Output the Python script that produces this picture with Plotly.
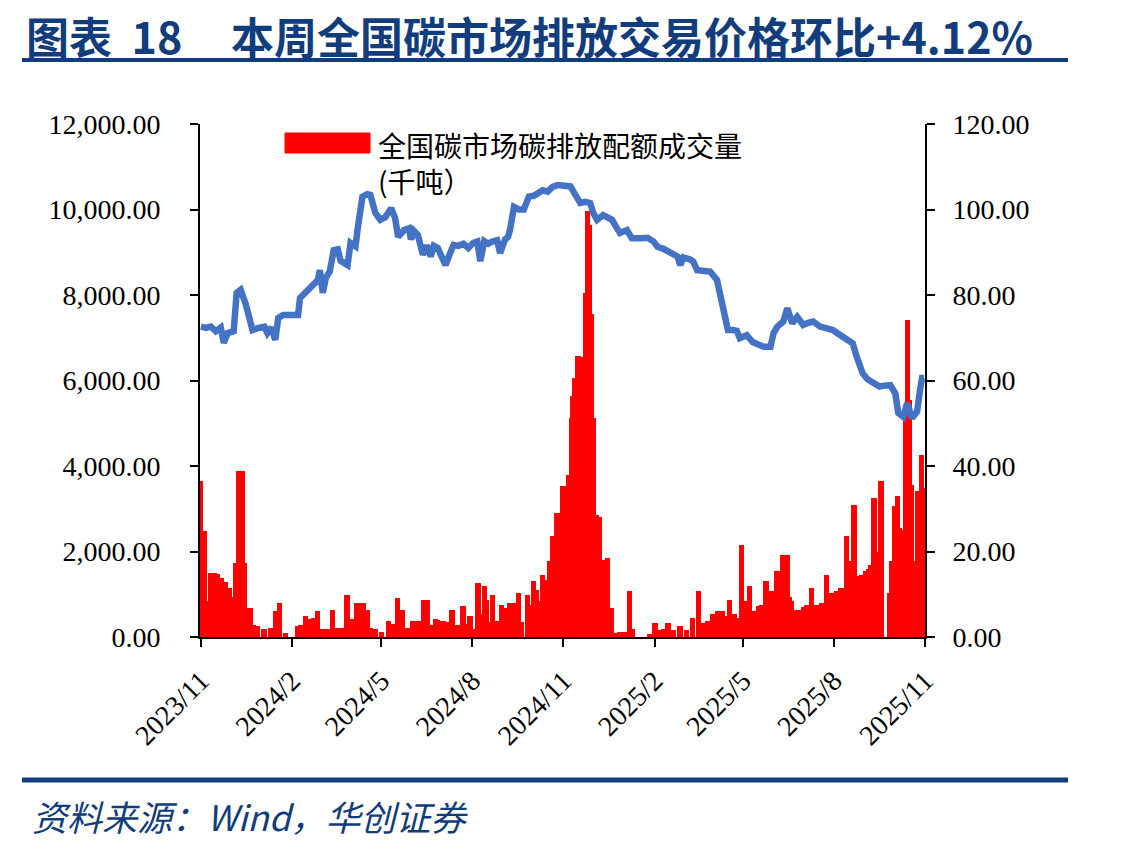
import plotly.graph_objects as go

# ---------------- data ----------------
price_dates = [
    "2023-11-01","2023-11-06","2023-11-11","2023-11-16","2023-11-21","2023-11-24","2023-11-28",
    "2023-12-04","2023-12-07","2023-12-11","2023-12-16","2023-12-19","2023-12-23","2023-12-29",
    "2024-01-04","2024-01-07","2024-01-11","2024-01-15","2024-01-18","2024-01-23","2024-01-30",
    "2024-02-07","2024-02-09","2024-02-17","2024-02-22","2024-02-27","2024-02-29",
    "2024-03-03","2024-03-06","2024-03-10","2024-03-14","2024-03-18","2024-03-21","2024-03-24","2024-03-28","2024-03-31",
    "2024-04-05","2024-04-07","2024-04-12","2024-04-17","2024-04-20","2024-04-25","2024-04-30",
    "2024-05-05","2024-05-11","2024-05-15","2024-05-18","2024-05-24","2024-05-29","2024-05-31",
    "2024-06-03","2024-06-07","2024-06-10","2024-06-12","2024-06-16","2024-06-20","2024-06-23","2024-06-27",
    "2024-07-01","2024-07-05","2024-07-09","2024-07-13","2024-07-18","2024-07-23","2024-07-28",
    "2024-08-02","2024-08-06","2024-08-09","2024-08-13","2024-08-17","2024-08-21","2024-08-26","2024-08-29",
    "2024-09-03","2024-09-06","2024-09-08","2024-09-12","2024-09-17","2024-09-22","2024-09-27",
    "2024-10-02","2024-10-06","2024-10-11","2024-10-16","2024-10-21","2024-10-26",
    "2024-11-01","2024-11-08","2024-11-13","2024-11-18","2024-11-23","2024-11-28",
    "2024-12-01","2024-12-05","2024-12-11","2024-12-16","2024-12-20","2024-12-24","2024-12-28",
    "2025-01-04","2025-01-09","2025-01-18","2025-01-25","2025-01-31",
    "2025-02-04","2025-02-10","2025-02-17","2025-02-24","2025-02-27",
    "2025-03-02","2025-03-09","2025-03-12","2025-03-16","2025-03-24","2025-03-29",
    "2025-04-05","2025-04-08","2025-04-11","2025-04-16","2025-04-21","2025-04-25","2025-04-28",
    "2025-05-05","2025-05-11","2025-05-16","2025-05-22","2025-05-29",
    "2025-06-01","2025-06-05","2025-06-11","2025-06-15","2025-06-20","2025-06-25",
    "2025-07-01","2025-07-06","2025-07-11","2025-07-18","2025-07-24","2025-07-31",
    "2025-08-05","2025-08-10","2025-08-15","2025-08-20","2025-08-24","2025-08-30",
    "2025-09-04","2025-09-09","2025-09-16","2025-09-21","2025-09-27",
    "2025-10-02","2025-10-05","2025-10-10","2025-10-14","2025-10-19","2025-10-24","2025-10-27","2025-10-29","2025-10-31",
]
price_values = [
    72.6, 72.3, 72.6, 71.5, 72.4, 68.8, 71.1,
    71.5, 80.5, 81.2, 78.0, 75.0, 71.8, 72.3,
    72.6, 71.1, 72.4, 69.5, 74.6, 75.3, 75.3,
    75.3, 79.3, 81.2, 82.0, 83.5, 85.8,
    80.5, 84.0, 85.5, 90.5, 90.7, 88.0, 87.5, 87.0, 92.2,
    91.4, 95.2, 103.0, 103.6, 103.4, 99.2, 97.6,
    98.2, 100.3, 98.0, 93.6, 95.2, 95.6, 93.0,
    95.0, 94.0, 91.0, 89.4, 91.6, 89.0, 91.5, 91.0,
    89.0, 87.0, 89.5, 91.7, 91.5, 92.0, 91.0,
    92.2, 92.5, 87.9, 92.6, 92.0, 92.5, 92.8, 89.8,
    93.0, 93.6, 95.2, 100.6, 100.0, 100.0, 103.0,
    103.2, 103.8, 104.5, 104.2, 105.3, 105.7,
    105.7, 105.4, 103.4, 101.5, 101.8, 101.5,
    99.2, 97.6, 98.7, 97.9, 97.6, 96.0, 94.5,
    95.2, 93.3, 93.3, 93.4, 92.5,
    91.3, 90.8, 89.8, 89.0, 87.0,
    88.8, 88.3, 87.8, 85.8, 85.8, 85.5,
    83.5, 80.5, 76.5, 71.8, 71.8, 71.6, 69.9,
    70.6, 69.0, 68.3, 67.9, 67.9,
    71.0, 72.6, 73.8, 76.9, 73.4, 74.9,
    73.0, 73.5, 73.8, 72.6, 72.4, 71.8,
    71.0, 70.2, 69.5, 68.7, 65.6, 61.7,
    60.3, 59.4, 58.6, 58.8, 58.9,
    57.0, 52.4, 51.5, 54.7, 51.2, 52.7, 57.8, 60.6, 60.6,
]

volume_dates = [
    "2023-11-01","2023-11-05","2023-11-08","2023-11-11","2023-11-15","2023-11-18","2023-11-22","2023-11-26","2023-11-30",
    "2023-12-04","2023-12-07","2023-12-10","2023-12-13","2023-12-15","2023-12-17","2023-12-21","2023-12-24","2023-12-28",
    "2024-01-04","2024-01-11","2024-01-16","2024-01-20","2024-01-26",
    "2024-02-07","2024-02-10","2024-02-15","2024-02-20","2024-02-23","2024-02-27",
    "2024-03-03","2024-03-08","2024-03-13","2024-03-18","2024-03-22","2024-03-28",
    "2024-04-02","2024-04-07","2024-04-10","2024-04-13","2024-04-17","2024-04-20","2024-04-25",
    "2024-05-02","2024-05-09","2024-05-13","2024-05-18","2024-05-23","2024-05-28",
    "2024-06-02","2024-06-06","2024-06-10","2024-06-13","2024-06-17","2024-06-20","2024-06-25","2024-06-27",
    "2024-07-03","2024-07-08","2024-07-12","2024-07-17","2024-07-23","2024-07-27","2024-07-30",
    "2024-08-02","2024-08-07","2024-08-10","2024-08-14","2024-08-16","2024-08-19","2024-08-22","2024-08-26","2024-08-31",
    "2024-09-05","2024-09-08","2024-09-12","2024-09-17","2024-09-20","2024-09-26","2024-09-29",
    "2024-10-02","2024-10-05","2024-10-08","2024-10-11","2024-10-14","2024-10-17","2024-10-19","2024-10-22","2024-10-26","2024-10-29",
    "2024-11-01","2024-11-05","2024-11-07","2024-11-10","2024-11-11","2024-11-13","2024-11-16","2024-11-19","2024-11-21",
    "2024-11-24","2024-11-26","2024-11-28","2024-11-30",
    "2024-12-02","2024-12-05","2024-12-08","2024-12-11","2024-12-13","2024-12-16","2024-12-18","2024-12-20","2024-12-25","2024-12-28",
    "2025-01-02","2025-01-07","2025-01-10","2025-01-28",
    "2025-02-02","2025-02-07","2025-02-11","2025-02-15","2025-02-20","2025-02-27",
    "2025-03-06","2025-03-12","2025-03-18","2025-03-22","2025-03-27",
    "2025-04-01","2025-04-06","2025-04-11","2025-04-15","2025-04-18","2025-04-23","2025-04-26","2025-04-30",
    "2025-05-03","2025-05-05","2025-05-08","2025-05-13","2025-05-18","2025-05-21","2025-05-25","2025-05-28","2025-05-30",
    "2025-06-01","2025-06-05","2025-06-08","2025-06-11","2025-06-15","2025-06-18","2025-06-20","2025-06-25","2025-06-28",
    "2025-07-02","2025-07-05","2025-07-10","2025-07-13","2025-07-15","2025-07-20","2025-07-25","2025-07-28","2025-07-30",
    "2025-08-04","2025-08-08","2025-08-11","2025-08-14","2025-08-17","2025-08-19","2025-08-22","2025-08-25","2025-08-27","2025-08-30",
    "2025-09-03","2025-09-06","2025-09-08","2025-09-11","2025-09-14","2025-09-16","2025-09-18",
    "2025-09-27","2025-09-29","2025-10-02","2025-10-05","2025-10-07","2025-10-10","2025-10-13","2025-10-15","2025-10-17",
    "2025-10-19","2025-10-22","2025-10-25","2025-10-27","2025-10-29","2025-10-31",
]
volume_values = [
    3600, 2430, 800, 1450, 1450, 1420, 1330, 1250, 1100,
    900, 1680, 3830, 3830, 1680, 240, 630, 240, 200,
    130, 170, 560, 750, 50,
    200, 240, 450, 380, 400, 560,
    130, 130, 590, 170, 170, 940,
    380, 750, 750, 750, 590, 170, 130,
    80, 330, 250, 870, 590, 170,
    330, 330, 330, 820, 830, 240, 380, 360,
    330, 300, 590, 240, 670, 250, 440,
    150, 1220, 500, 1140, 830, 300, 940, 330, 710,
    640, 740, 740, 980, 300, 940, 700,
    1260, 1060, 800, 1410, 1290, 1100, 1730, 2310, 2850, 2270,
    3480, 3480, 3750, 5080, 5590, 6010, 6530, 6500, 5000,
    8000, 9920, 9600, 7500,
    5080, 2810, 2750, 1500, 1760, 1790, 630, 630, 50, 80,
    60, 1020, 150, 30,
    280, 120, 150, 280, 120, 200,
    120, 400, 1020, 280, 320,
    480, 560, 560, 450, 830, 480, 400, 2110,
    500, 800, 1140, 560, 680, 700, 1260, 700, 1020,
    800, 1500, 1400, 1880, 1880, 900, 800, 590, 590,
    650, 700, 1100, 600, 700, 740, 1410, 700, 980,
    1020, 1100, 1100, 2310, 1730, 1200, 3050, 1380, 1380, 1410,
    1500, 1550, 1640, 3200, 1900, 1950, 3600,
    980, 1730, 3010, 3250, 2500, 2460, 5000, 7380, 5500,
    3520, 1730, 3360, 3000, 4220, 3440,
]

x_tick_vals = ["2023-11-01","2024-02-01","2024-05-01","2024-08-01","2024-11-01",
               "2025-02-01","2025-05-01","2025-08-01","2025-11-01"]
x_tick_text = ["2023/11","2024/2","2024/5","2024/8","2024/11",
               "2025/2","2025/5","2025/8","2025/11"]
left_ticks = [0, 2000, 4000, 6000, 8000, 10000, 12000]
right_ticks = [0, 20, 40, 60, 80, 100, 120]

NB = "\u00a0"
title_text = "图表" + NB * 2 + "18" + NB * 5 + "本周全国碳市场排放交易价格环比+4.12%"
legend_text = "全国碳市场碳排放配额成交量<br>(千吨）"
source_text = "资料来源：Wind，华创证券"

# ---------------- layout geometry ----------------
W, H = 1126, 849
L, R, T, B = 200, 925, 124, 637
def px(x):
    return (x - L) / (R - L)
def py(y):
    return (B - y) / (B - T)

NAVY = "#123d7c"
SERIF = "Liberation Serif, Times New Roman, serif"
CJK = "Noto Sans CJK SC, sans-serif"

fig = go.Figure()
fig.add_trace(go.Bar(
    x=volume_dates, y=volume_values, name="全国碳市场碳排放配额成交量(千吨）",
    marker=dict(color="#ff0000", line=dict(color="#ff0000", width=3)),
    width=2.4 * 86400000, yaxis="y", showlegend=False,
))
fig.add_trace(go.Scatter(
    x=price_dates, y=price_values, mode="lines", name="价格",
    line=dict(color="#4472c4", width=6.5), yaxis="y2", showlegend=False,
))

fig.update_layout(
    width=W, height=H,
    margin=dict(l=L, r=W - R, t=T, b=H - B),
    paper_bgcolor="white", plot_bgcolor="white",
    bargap=0,
    xaxis=dict(
        type="date", range=["2023-10-31", "2025-11-01"],
        tickvals=x_tick_vals, ticktext=x_tick_text, tickangle=-45,
        ticks="outside", ticklen=8, tickwidth=2, tickcolor="black",
        showline=True, linecolor="black", linewidth=2,
        showgrid=False, zeroline=False,
        tickfont=dict(family=SERIF, size=28, color="black"),
        ticklabelstandoff=6,
    ),
    yaxis=dict(
        range=[0, 12000], tickvals=left_ticks, tickformat=",.2f",
        ticks="outside", ticklen=8, tickwidth=2, tickcolor="black",
        showline=True, linecolor="black", linewidth=2,
        showgrid=False, zeroline=False,
        tickfont=dict(family=SERIF, size=28, color="black"),
        ticklabelstandoff=24,
    ),
    yaxis2=dict(
        range=[0, 120], tickvals=right_ticks, tickformat=".2f",
        overlaying="y", side="right",
        ticks="outside", ticklen=8, tickwidth=2, tickcolor="black",
        showline=True, linecolor="black", linewidth=2,
        showgrid=False, zeroline=False,
        tickfont=dict(family=SERIF, size=28, color="black"),
        ticklabelstandoff=12,
    ),
)

shapes = [
    dict(type="line", xref="paper", yref="paper", x0=px(22), x1=px(1068), y0=py(60), y1=py(60),
         line=dict(color=NAVY, width=4)),
    dict(type="line", xref="paper", yref="paper", x0=px(22), x1=px(1068), y0=py(780), y1=py(780),
         line=dict(color=NAVY, width=5)),
    dict(type="rect", xref="paper", yref="paper", x0=px(285), x1=px(370), y0=py(153), y1=py(133),
         fillcolor="#ff0000", line=dict(color="#ff0000", width=1)),
]
annotations = [
    dict(text=title_text, xref="paper", yref="paper", x=px(24), y=py(2), xanchor="left", yanchor="top",
         showarrow=False, font=dict(family=CJK, size=43, color=NAVY, weight="bold")),
    dict(text=legend_text, xref="paper", yref="paper", x=px(376), y=py(123), xanchor="left", yanchor="top",
         align="left", showarrow=False, font=dict(family=CJK, size=28, color="black")),
    dict(text="<i>" + source_text + "</i>", xref="paper", yref="paper", x=px(30), y=py(815),
         xanchor="left", yanchor="middle", showarrow=False,
         font=dict(family=CJK, size=35, color=NAVY)),
]
fig.update_layout(shapes=shapes, annotations=annotations)

fig.write_html("out.html")
